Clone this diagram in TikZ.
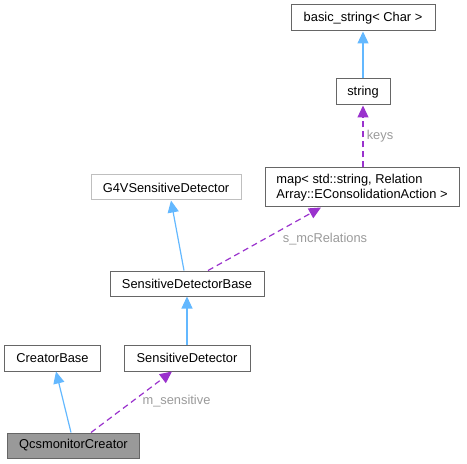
\documentclass[tikz,border=0pt]{standalone}
\usepackage{fontspec}
\setmainfont{Liberation Sans}
\usetikzlibrary{arrows.meta}
\definecolor{edgeblue}{HTML}{63B8FF}
\definecolor{edgepurple}{HTML}{9A32CD}
\definecolor{boxborder}{HTML}{666666}
\definecolor{lightborder}{HTML}{BFBFBF}
\definecolor{labelgrey}{HTML}{9A9A9A}
\definecolor{curfill}{HTML}{999999}
\begin{document}
\begin{tikzpicture}[x=1bp,y=-1bp,
  cls/.style={draw=boxborder, line width=1bp, fill=white, inner sep=0pt, font=\fontsize{12.9}{15}\selectfont},
  inherit/.style={draw=edgeblue, line width=1.2bp, -{Triangle[length=12bp,width=11bp]}},
  usage/.style={draw=edgepurple, line width=1.2bp, dash pattern=on 6bp off 4bp, -{Triangle[length=12bp,width=11bp]}},
  elabel/.style={text=labelgrey, font=\fontsize{12.9}{15}\selectfont, inner sep=0pt}]
\useasboundingbox (0,0) rectangle (467,464);
\node[cls, minimum width=144bp, minimum height=26bp] (basic) at (363,18) {basic\_string< Char >};
\node[cls, minimum width=54bp, minimum height=26bp] (str) at (363,92) {string};
\node[cls, minimum width=194bp, minimum height=39bp, align=left] (map) at (362,187.5) {map< std::string, Relation\\Array::EConsolidationAction >};
\node[cls, draw=lightborder, minimum width=150bp, minimum height=25bp] (g4v) at (166,187.5) {G4VSensitiveDetector};
\node[cls, minimum width=154bp, minimum height=25bp] (sdb) at (187,283.5) {SensitiveDetectorBase};
\node[cls, minimum width=95bp, minimum height=26bp] (cb) at (52.5,358) {CreatorBase};
\node[cls, minimum width=126bp, minimum height=26bp] (sd) at (187,358) {SensitiveDetector};
\node[cls, fill=curfill, minimum width=131bp, minimum height=25bp] (qcs) at (73.5,445.5) {QcsmonitorCreator};
\draw[inherit] (str.north) -- (basic.south);
\draw[usage] ([xshift=1bp]map.north) -- (str.south);
\draw[inherit] ([xshift=-3bp]sdb.north) -- ([xshift=5bp]g4v.south);
\draw[usage] ([xshift=21bp]sdb.north) -- ([xshift=-41bp]map.south);
\draw[inherit] (sd.north) -- (sdb.south);
\draw[inherit] ([xshift=-2.5bp]qcs.north) -- ([xshift=3.5bp]cb.south);
\draw[usage] ([xshift=17.5bp]qcs.north) -- ([xshift=-15bp]sd.south);
\node[elabel] (lkeys) at (380,136) {keys};
\node[elabel] (lmc) at (325,239) {s\_mcRelations};
\node[elabel] (lms) at (176.5,401) {m\_sensitive};
\end{tikzpicture}
\end{document}
